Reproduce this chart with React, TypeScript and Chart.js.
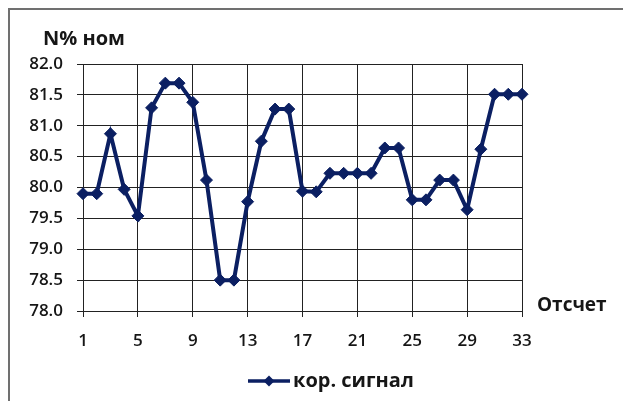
import { useEffect, useRef } from "react";
import { Chart, registerables } from "chart.js";

Chart.register(...registerables);

// Sample numbers along the horizontal axis
const SAMPLES = [
  "1", "2", "3", "4", "5", "6", "7", "8", "9", "10", "11",
  "12", "13", "14", "15", "16", "17", "18", "19", "20", "21", "22",
  "23", "24", "25", "26", "27", "28", "29", "30", "31", "32", "33",
];

// Corrected signal, % of nominal
const SIGNAL = [
  79.9, 79.9, 80.87, 79.97, 79.54, 81.29, 81.69, 81.69, 81.38, 80.12, 78.5,
  78.5, 79.77, 80.75, 81.27, 81.27, 79.94, 79.93, 80.23, 80.23, 80.23, 80.23,
  80.64, 80.64, 79.8, 79.8, 80.12, 80.12, 79.64, 80.62, 81.51, 81.51, 81.51,
];

const SERIES_NAME = "кор. сигнал";
const Y_TITLE = "N% ном";
const X_TITLE = "Отсчет";

const Y_MIN = 78;
const Y_MAX = 82;
const Y_STEP = 0.5;
const X_LABEL_EVERY = 4;

const FONT = "'Open Sans', 'Noto Sans', sans-serif";
const LINE_COLOR = "#0b1f62";
const GRID_COLOR = "#222222";
const TEXT_COLOR = "#161616";

// Frame, axis titles and legend drawn on top of the chart
const decorations = {
  id: "decorations",
  afterDraw(chart: Chart) {
    const ctx = chart.ctx;
    const area = chart.chartArea;
    ctx.save();

    // outer frame (top and left edges)
    ctx.strokeStyle = "#707070";
    ctx.lineWidth = 2;
    ctx.beginPath();
    ctx.moveTo(9, chart.height);
    ctx.lineTo(9, 9);
    ctx.lineTo(chart.width, 9);
    ctx.stroke();

    ctx.fillStyle = TEXT_COLOR;
    ctx.textBaseline = "middle";
    ctx.textAlign = "left";

    ctx.font = `bold 20px ${FONT}`;
    ctx.fillText(Y_TITLE, 43, 39);

    ctx.font = `bold 19px ${FONT}`;
    ctx.fillText(X_TITLE, area.right + 15, area.bottom - 5);

    // legend: line with diamond marker + series name
    const ds = chart.data.datasets[0];
    const ly = 381;
    const lx0 = 248;
    const lx1 = 290;
    ctx.strokeStyle = LINE_COLOR;
    ctx.lineWidth = 3.5;
    ctx.beginPath();
    ctx.moveTo(lx0, ly);
    ctx.lineTo(lx1, ly);
    ctx.stroke();
    const cx = (lx0 + lx1) / 2;
    const r = 5.5;
    ctx.fillStyle = LINE_COLOR;
    ctx.beginPath();
    ctx.moveTo(cx, ly - r);
    ctx.lineTo(cx + r, ly);
    ctx.lineTo(cx, ly + r);
    ctx.lineTo(cx - r, ly);
    ctx.closePath();
    ctx.fill();

    ctx.fillStyle = TEXT_COLOR;
    ctx.font = `bold 20px ${FONT}`;
    ctx.fillText(String(ds.label), lx1 + 3, ly);

    ctx.restore();
  },
};

const whiteBackground = {
  id: "whiteBackground",
  beforeDraw(chart: Chart) {
    const ctx = chart.ctx;
    ctx.save();
    ctx.fillStyle = "#ffffff";
    ctx.fillRect(0, 0, chart.width, chart.height);
    ctx.restore();
  },
};

export default function App() {
  const canvasRef = useRef<HTMLCanvasElement | null>(null);

  useEffect(() => {
    if (!canvasRef.current) return;
    const chart = new Chart(canvasRef.current, {
      type: "line",
      data: {
        labels: SAMPLES,
        datasets: [
          {
            label: SERIES_NAME,
            data: SIGNAL,
            borderColor: LINE_COLOR,
            backgroundColor: LINE_COLOR,
            borderWidth: 4,
            pointStyle: "rectRot",
            pointRadius: 6,
            pointBorderWidth: 1,
            pointBackgroundColor: LINE_COLOR,
            pointBorderColor: LINE_COLOR,
            tension: 0,
          },
        ],
      },
      options: {
        animation: false,
        responsive: true,
        maintainAspectRatio: false,
        layout: { padding: { top: 64, right: 101, bottom: 0, left: 0 } },
        plugins: {
          legend: { display: false },
          tooltip: { enabled: false },
        },
        scales: {
          x: {
            type: "category",
            offset: false,
            afterFit(scale: any) {
              scale.height = 90;
            },
            grid: {
              color: GRID_COLOR,
              lineWidth: 1,
              tickLength: 6,
              drawOnChartArea: true,
            },
            border: { color: GRID_COLOR, width: 1 },
            ticks: {
              autoSkip: false,
              maxRotation: 0,
              padding: 14,
              color: TEXT_COLOR,
              font: { family: FONT, size: 17, weight: 600 },
              callback(_v: any, i: number) {
                return i % X_LABEL_EVERY === 0 ? SAMPLES[i] : null;
              },
            },
          },
          y: {
            min: Y_MIN,
            max: Y_MAX,
            afterFit(scale: any) {
              scale.width = 83;
            },
            grid: { color: GRID_COLOR, lineWidth: 1, tickLength: 6 },
            border: { color: GRID_COLOR, width: 1 },
            ticks: {
              stepSize: Y_STEP,
              padding: 14,
              color: TEXT_COLOR,
              font: { family: FONT, size: 17, weight: 600 },
              callback(v: any) {
                return Number(v).toFixed(1);
              },
            },
          },
        },
      },
      plugins: [whiteBackground, decorations],
    });
    return () => chart.destroy();
  }, []);

  return (
    <div style={{ position: "fixed", left: 0, top: 0, width: 623, height: 401 }}>
      <canvas ref={canvasRef} />
    </div>
  );
}
